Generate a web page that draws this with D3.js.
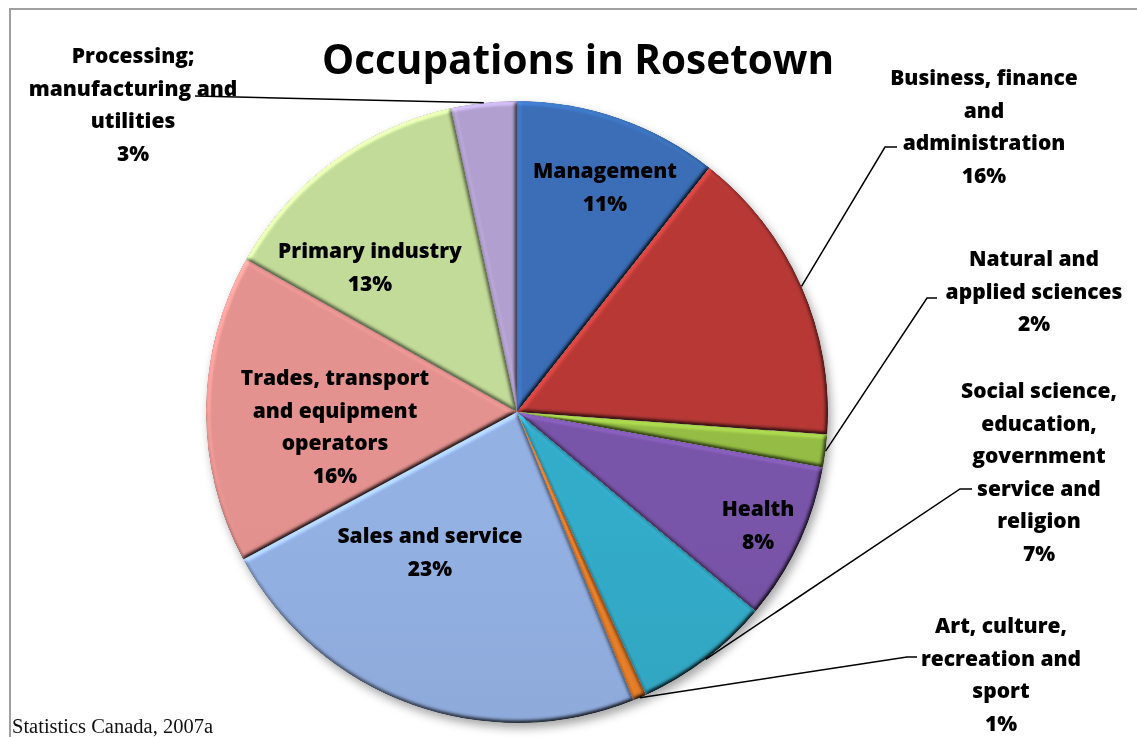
<!DOCTYPE html>
<html>
<head>
<meta charset="utf-8">
<script src="https://cdn.jsdelivr.net/npm/d3@7"></script>
<style>
  html, body { margin: 0; padding: 0; background: #fff; }
  svg { display: block; }
</style>
</head>
<body>
<div id="chart"></div>
<script>
// occupations, clockwise from 12 o'clock
var categories = ["Management", "Business, finance and administration", "Natural and applied sciences",
  "Health", "Social science, education, government service and religion", "Art, culture, recreation and sport",
  "Sales and service", "Trades, transport and equipment operators", "Primary industry",
  "Processing; manufacturing and utilities"];
var shares = [10.6, 15.5, 1.7, 8.2, 7.1, 0.7, 23.2, 16.0, 13.4, 3.4];
var labelLines = [
  ["Management"],
  ["Business, finance", "and", "administration"],
  ["Natural and", "applied sciences"],
  ["Health"],
  ["Social science,", "education,", "government", "service and", "religion"],
  ["Art, culture,", "recreation and", "sport"],
  ["Sales and service"],
  ["Trades, transport", "and equipment", "operators"],
  ["Primary industry"],
  ["Processing;", "manufacturing and", "utilities"]
];
var colors = ["#3768ad", "#ad3633", "#8db340", "#7350a0", "#30a3bf", "#e07a28",
  "#8ca8d8", "#d88a88", "#b9d090", "#a898c4"];

var width = 1137, height = 737;
var cx = 517, cy = 412, radius = 311;
var lineH = 32.5;

// label layout: centre x, first line y, and leader elbow (if drawn outside)
var labelPos = [
  [605, 170, null],
  [984, 77, [[897, 147], [885, 147]]],
  [1034, 258, [[937, 298], [927, 298]]],
  [758, 508, null],
  [1039, 390, [[972, 489], [960, 489]]],
  [1001, 625, [[917, 657], [907, 657]]],
  [430, 535, null],
  [335, 377, null],
  [370, 250, null],
  [133, 55, [[195, 96]]]
];

var svg = d3.select("#chart").append("svg")
  .attr("width", width)
  .attr("height", height);

var defs = svg.append("defs");

var shadow = defs.append("filter").attr("id", "shadow")
  .attr("x", "-10%").attr("y", "-10%").attr("width", "120%").attr("height", "120%");
shadow.append("feDropShadow")
  .attr("dx", 3).attr("dy", 5).attr("stdDeviation", 5)
  .attr("flood-color", "#000").attr("flood-opacity", 0.35);

// soft bevel: light from the top-left
var bevel = defs.append("filter").attr("id", "bevel")
  .attr("color-interpolation-filters", "sRGB")
  .attr("x", "-5%").attr("y", "-5%").attr("width", "110%").attr("height", "110%");
bevel.append("feGaussianBlur").attr("in", "SourceAlpha").attr("stdDeviation", 2.2).attr("result", "blur");
bevel.append("feDiffuseLighting")
  .attr("in", "blur").attr("surfaceScale", 2.5).attr("diffuseConstant", 1)
  .attr("lighting-color", "#fff").attr("result", "light")
  .append("feDistantLight").attr("azimuth", 235).attr("elevation", 55);
bevel.append("feComposite")
  .attr("in", "SourceGraphic").attr("in2", "light")
  .attr("operator", "arithmetic")
  .attr("k1", 1.4).attr("k2", -0.147).attr("k3", 0).attr("k4", 0)
  .attr("result", "lit");
bevel.append("feComposite")
  .attr("in", "lit").attr("in2", "SourceAlpha").attr("operator", "in");

// frame
svg.append("rect")
  .attr("x", 10).attr("y", 9)
  .attr("width", 1200).attr("height", 800)
  .attr("fill", "none")
  .attr("stroke", "#a0a0a0")
  .attr("stroke-width", 2);

var pie = d3.pie().value(function (d) { return d; }).sort(null);
var arcs = pie(shares);
var total = d3.sum(shares);
var arc = d3.arc().innerRadius(0).outerRadius(radius);
var rimArc = d3.arc().innerRadius(radius).outerRadius(radius);

arcs.forEach(function (a, i) {
  var c = d3.color(colors[i]);
  var g = defs.append("linearGradient")
    .attr("id", "grad" + i)
    .attr("gradientUnits", "userSpaceOnUse")
    .attr("x1", 0).attr("y1", cy - radius)
    .attr("x2", 0).attr("y2", cy + radius);
  g.append("stop").attr("offset", "0%").attr("stop-color", c.brighter(0.15));
  g.append("stop").attr("offset", "100%").attr("stop-color", c.darker(0.2));
});

var pieG = svg.append("g")
  .attr("transform", "translate(" + cx + "," + cy + ")")
  .attr("filter", "url(#shadow)");

pieG.selectAll("path.slice")
  .data(arcs)
  .join("path")
  .attr("class", "slice")
  .attr("d", arc)
  .attr("fill", function (d, i) { return "url(#grad" + i + ")"; })
  .attr("filter", "url(#bevel)");

// leader lines
var leaders = svg.append("g")
  .attr("fill", "none")
  .attr("stroke", "#000")
  .attr("stroke-width", 1.5);
arcs.forEach(function (a, i) {
  var elbow = labelPos[i][2];
  if (!elbow) return;
  var p = rimArc.centroid(a);
  var pts = elbow.concat([[cx + p[0], cy + p[1]]]);
  leaders.append("path").attr("d", d3.line()(pts));
});

// labels
var labels = svg.append("g")
  .attr("font-family", "'Open Sans', Lato, sans-serif")
  .attr("font-weight", 800)
  .attr("font-size", 21)
  .attr("fill", "#000")
  .attr("text-anchor", "middle");

arcs.forEach(function (a, i) {
  var lines = labelLines[i].concat([Math.round(a.value / total * 100) + "%"]);
  var t = labels.append("text")
    .attr("x", labelPos[i][0])
    .attr("y", labelPos[i][1])
    .attr("dominant-baseline", "central");
  lines.forEach(function (s, k) {
    t.append("tspan")
      .attr("x", labelPos[i][0])
      .attr("y", labelPos[i][1] + k * lineH)
      .text(s);
  });
});

svg.append("text")
  .attr("x", 578)
  .attr("y", 74)
  .attr("text-anchor", "middle")
  .attr("font-family", "'Open Sans', Lato, sans-serif")
  .attr("font-weight", 700)
  .attr("font-size", 40.5)
  .text("Occupations in Rosetown");

svg.append("text")
  .attr("x", 12)
  .attr("y", 733)
  .attr("font-family", "'Liberation Serif', 'DejaVu Serif', serif")
  .attr("font-size", 20.5)
  .attr("fill", "#111")
  .text("Statistics Canada, 2007a");
</script>
</body>
</html>
